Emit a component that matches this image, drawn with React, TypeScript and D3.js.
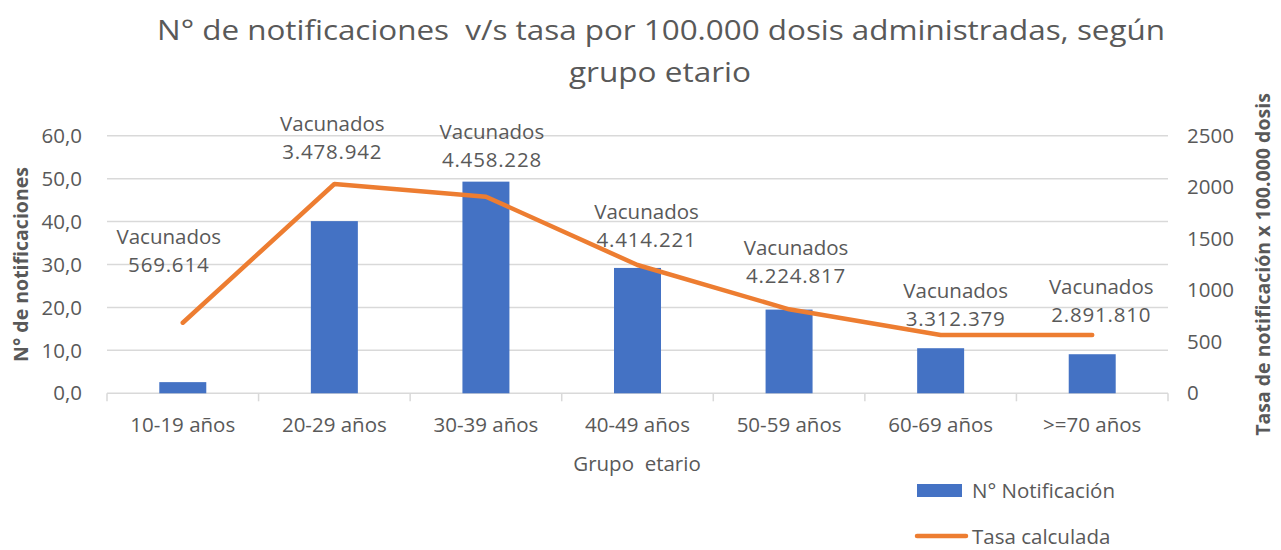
import React from 'react'
import * as d3 from 'd3'

const categories = ['10-19 años', '20-29 años', '30-39 años', '40-49 años', '50-59 años', '60-69 años', '>=70 años']
const notificaciones = [2.6, 40.1, 49.3, 29.2, 19.5, 10.5, 9.1]
const tasa = [685, 2031, 1908, 1245, 815, 566, 566]
const vacunados = ['569.614', '3.478.942', '4.458.228', '4.414.221', '4.224.817', '3.312.379', '2.891.810']
const leftTicks = [0, 10, 20, 30, 40, 50, 60]
const rightTicks = [0, 500, 1000, 1500, 2000, 2500]
// label nudges relative to the line point (Excel labels were dragged by hand)
const labelNudge = [[-14, -86], [-2, -60], [6, -65], [9, -53], [7, -61], [15, -44], [9, -48]]

const W = 1281, H = 550
const TXT = '#595959'
const BLUE = '#4472C4', ORANGE = '#ED7D31', GRID = '#D9D9D9'
const FONT = '"Open Sans", "Noto Sans", sans-serif'

export default function App(){
  const x = d3.scaleBand<string>().domain(categories).range([107, 1168]).padding(0)
  const yL = d3.scaleLinear().domain([0, 60]).range([393.3, 135.7])
  const yR = d3.scaleLinear().domain([0, 2500]).range([393.3, 135.7])
  const bw = x.bandwidth() * 0.31
  const cx = (c: string) => (x(c) as number) + x.bandwidth() / 2

  const line = d3.line<number>()
    .x((_, i) => cx(categories[i]))
    .y(d => yR(d))

  const fmt = (v: number) => d3.format('.1f')(v).replace('.', ',')

  return (
    <div style={{position:'absolute', left:0, top:0}}>
      <svg width={W} height={H} style={{display:'block', background:'#fff'}} fontFamily={FONT}>
        {/* title */}
        <text x={661} y={40} textAnchor="middle" fill={TXT} fontSize={28}
          textLength={1008} lengthAdjust="spacingAndGlyphs" style={{whiteSpace:'pre'}}>
          N° de notificaciones  v/s tasa por 100.000 dosis administradas, según
        </text>
        <text x={660} y={82} textAnchor="middle" fill={TXT} fontSize={28}
          textLength={182} lengthAdjust="spacingAndGlyphs">grupo etario</text>

        {/* gridlines */}
        {leftTicks.map(t => (
          <line key={t} x1={107} x2={1168} y1={yL(t)} y2={yL(t)} stroke={GRID} strokeWidth={1.5} />
        ))}
        {/* category ticks */}
        {categories.concat(['__end']).map((c, i) => {
          const xx = i < categories.length ? (x(c) as number) : 1168
          return <line key={c} x1={xx} x2={xx} y1={yL(0)} y2={yL(0) + 8} stroke={GRID} strokeWidth={1.5} />
        })}

        {/* bars */}
        {categories.map((c, i) => (
          <rect key={c} x={cx(c) - bw / 2} y={yL(notificaciones[i])} width={bw}
            height={yL(0) - yL(notificaciones[i])} fill={BLUE} />
        ))}

        {/* line */}
        <path d={line(tasa) || ''} fill="none" stroke={ORANGE} strokeWidth={4.5}
          strokeLinejoin="round" strokeLinecap="round" />

        {/* data labels */}
        {categories.map((c, i) => {
          const lx = cx(c) + labelNudge[i][0]
          const ly = yR(tasa[i]) + labelNudge[i][1]
          return (
            <g key={c} fill={TXT} fontSize={20.5} textAnchor="middle">
              <text x={lx} y={ly} dy="0.35em">Vacunados</text>
              <text x={lx} y={ly + 28} dy="0.35em" letterSpacing={0.8}>{vacunados[i]}</text>
            </g>
          )
        })}

        {/* left axis labels */}
        {leftTicks.map(t => (
          <text key={t} x={82} y={yL(t)} dy="0.35em" textAnchor="end" fill={TXT} fontSize={20.5}>{fmt(t)}</text>
        ))}
        {/* right axis labels */}
        {rightTicks.map(t => (
          <text key={t} x={1187} y={yR(t)} dy="0.35em" textAnchor="start" fill={TXT} fontSize={20.5}>{t}</text>
        ))}

        {/* x labels */}
        {categories.map(c => (
          <text key={c} x={cx(c)} y={425} dy="0.35em" textAnchor="middle" fill={TXT} fontSize={20.5}>{c}</text>
        ))}
        <text x={637} y={464} dy="0.35em" textAnchor="middle" fill={TXT} fontSize={20.5}
          style={{whiteSpace:'pre'}}>Grupo  etario</text>

        {/* axis titles */}
        <text transform={`translate(21,${(yL(0) + yL(60)) / 2}) rotate(-90)`} dy="0.35em" textAnchor="middle"
          fill={TXT} fontSize={19.5} fontWeight={700}>N° de notificaciones</text>
        <text transform={`translate(1263,${(yR(0) + yR(2500)) / 2}) rotate(-90)`} dy="0.35em" textAnchor="middle"
          fill={TXT} fontSize={19.5} fontWeight={700}>Tasa de notificación x 100.000 dosis</text>

        {/* legend */}
        <rect x={917} y={484} width={45} height={13} fill={BLUE} />
        <text x={972} y={491} dy="0.35em" fill={TXT} fontSize={20.5}>N° Notificación</text>
        <line x1={917} x2={966} y1={536} y2={536} stroke={ORANGE} strokeWidth={4.5} strokeLinecap="round" />
        <text x={972} y={537} dy="0.35em" fill={TXT} fontSize={20.5}>Tasa calculada</text>
      </svg>
    </div>
  )
}
